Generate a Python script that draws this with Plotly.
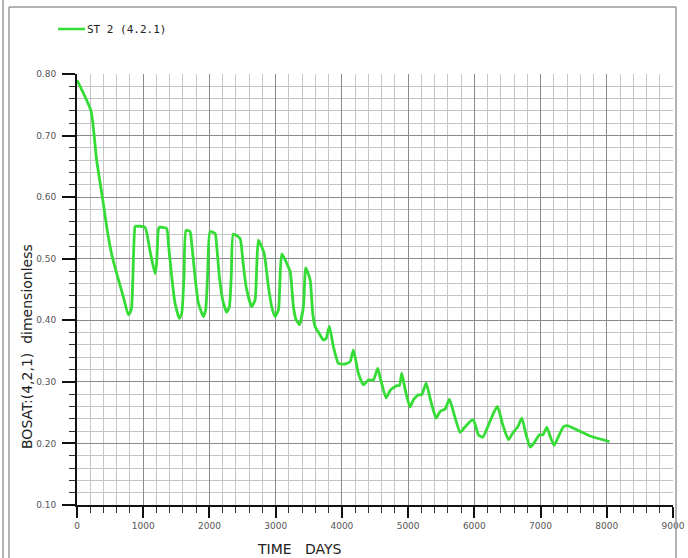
import plotly.graph_objects as go

# ---- data ----
days = [0, 211, 297, 397, 448, 520, 599, 700, 775, 800, 826, 876, 891, 1027, 1100, 1178, 1200,
        1228, 1243, 1354, 1380, 1430, 1480, 1546, 1581, 1616, 1646, 1707, 1732, 1782, 1833, 1908,
        1943, 1973, 2009, 2085, 2110, 2150, 2200, 2261, 2301, 2331, 2361, 2462, 2503, 2553, 2638,
        2689, 2714, 2739, 2825, 2890, 2940, 2991, 3042, 3067, 3092, 3218, 3268, 3308, 3359, 3419,
        3454, 3520, 3560, 3595, 3660, 3721, 3760, 3811, 3872, 3948, 4048, 4124, 4174, 4249, 4325,
        4400, 4476, 4541, 4587, 4668, 4728, 4829, 4869, 4904, 4960, 5030, 5080, 5156, 5206, 5272,
        5340, 5423, 5483, 5559, 5624, 5700, 5785, 5861, 5962, 5992, 6062, 6127, 6213, 6289, 6349,
        6430, 6515, 6581, 6656, 6717, 6780, 6843, 6903, 6983, 7033, 7095, 7150, 7205, 7270, 7346,
        7406, 7548, 7749, 8041]
bosat = [0.790, 0.740, 0.660, 0.590, 0.552, 0.509, 0.476, 0.438, 0.409, 0.412, 0.422, 0.552, 0.553,
         0.551, 0.514, 0.476, 0.490, 0.547, 0.551, 0.549, 0.525, 0.471, 0.428, 0.403, 0.411, 0.471,
         0.546, 0.544, 0.525, 0.471, 0.428, 0.406, 0.417, 0.476, 0.544, 0.541, 0.520, 0.471, 0.433,
         0.413, 0.422, 0.476, 0.540, 0.533, 0.498, 0.455, 0.422, 0.433, 0.487, 0.530, 0.509, 0.455,
         0.422, 0.406, 0.417, 0.471, 0.508, 0.479, 0.422, 0.401, 0.393, 0.422, 0.485, 0.466, 0.411,
         0.390, 0.378, 0.368, 0.370, 0.390, 0.357, 0.330, 0.329, 0.333, 0.352, 0.314, 0.295, 0.303,
         0.303, 0.322, 0.303, 0.274, 0.286, 0.294, 0.294, 0.314, 0.285, 0.259, 0.271, 0.279, 0.279,
         0.298, 0.270, 0.241, 0.252, 0.256, 0.272, 0.245, 0.218, 0.227, 0.238, 0.237, 0.214, 0.210,
         0.230, 0.249, 0.260, 0.230, 0.206, 0.217, 0.227, 0.241, 0.215, 0.194, 0.201, 0.214, 0.214,
         0.226, 0.210, 0.197, 0.211, 0.227, 0.229, 0.222, 0.212, 0.203]
assert len(days) == len(bosat)

series_name = "ST 2 (4.2.1)"
x_title = "TIME   DAYS"
y_title = "BOSAT:(4,2,1)  dimensionless"
x_ticks = [0, 1000, 2000, 3000, 4000, 5000, 6000, 7000, 8000, 9000]
y_ticks = [0.10, 0.20, 0.30, 0.40, 0.50, 0.60, 0.70, 0.80]

GREEN = "#35dc35"
MAJ = "#8a8a8a"
MIN = "#c4c4c4"
TICKFONT = dict(family="DejaVu Sans", size=9, color="#555555")

W, H = 688, 558
L, R, T, B = 77, 15, 74, 53
pw, ph = W - L - R, H - T - B


def px(xp):
    return (xp - L) / pw


def py(yp):
    return (H - B - yp) / ph


fig = go.Figure()
fig.add_trace(go.Scatter(x=days, y=bosat, mode="lines", name=series_name,
                         line=dict(color=GREEN, width=2.8, shape="spline", smoothing=0.5),
                         showlegend=False))

fig.update_layout(
    template="none",
    width=W, height=H, autosize=False,
    margin=dict(l=L, r=R, t=T, b=B, pad=0, autoexpand=False),
    paper_bgcolor="white", plot_bgcolor="white",
    xaxis=dict(range=[0, 9000], tickvals=x_ticks, ticktext=[str(v) for v in x_ticks],
               automargin=False,
               showgrid=True, gridcolor=MAJ, gridwidth=1,
               ticks="outside", ticklen=11, tickwidth=2, tickcolor="#111111",
               showline=True, linecolor="#111111", linewidth=2,
               tickfont=TICKFONT, zeroline=False,
               minor=dict(dtick=200, showgrid=True, gridcolor=MIN, gridwidth=1,
                          ticks="outside", ticklen=6, tickwidth=1, tickcolor="#333333")),
    yaxis=dict(range=[0.10, 0.80], tickvals=y_ticks, ticktext=["%.2f" % v for v in y_ticks],
               automargin=False,
               showgrid=True, gridcolor=MAJ, gridwidth=1,
               ticks="outside", ticklen=13, tickwidth=2, tickcolor="#111111",
               showline=True, linecolor="#111111", linewidth=2,
               tickfont=TICKFONT, zeroline=False, ticklabelstandoff=4,
               minor=dict(dtick=0.02, showgrid=True, gridcolor=MIN, gridwidth=1,
                          ticks="outside", ticklen=6, tickwidth=1, tickcolor="#333333")),
)

# titles
fig.add_annotation(text=x_title, xref="paper", yref="paper", x=px(299), y=py(549),
                   xanchor="center", yanchor="middle", showarrow=False,
                   font=dict(family="DejaVu Sans", size=14, color="#222222"))
fig.add_annotation(text=y_title, xref="paper", yref="paper", x=px(27), y=py(347),
                   xanchor="center", yanchor="middle", showarrow=False, textangle=-90,
                   font=dict(family="DejaVu Sans", size=14, color="#222222"))

# legend (line sample + label)
fig.add_shape(type="line", xref="paper", yref="paper", x0=px(58), x1=px(85), y0=py(29), y1=py(29),
              line=dict(color=GREEN, width=2.5))
fig.add_annotation(text=series_name, xref="paper", yref="paper", x=px(85), y=py(29),
                   xanchor="left", yanchor="middle", showarrow=False,
                   font=dict(family="DejaVu Sans Mono", size=11, color="#222222"))

# window frame
frame = "#9a9a9a"
fig.add_shape(type="line", xref="paper", yref="paper", x0=px(9), x1=px(676), y0=py(7), y1=py(7),
              line=dict(color=frame, width=1.5))
fig.add_shape(type="line", xref="paper", yref="paper", x0=px(9), x1=px(9), y0=py(7), y1=py(560),
              line=dict(color=frame, width=1.5))
fig.add_shape(type="line", xref="paper", yref="paper", x0=px(676), x1=px(676), y0=py(7), y1=py(560),
              line=dict(color=frame, width=1.5))
fig.add_shape(type="line", xref="paper", yref="paper", x0=px(3), x1=px(3), y0=py(0), y1=py(560),
              line=dict(color=frame, width=1.5))

fig.write_html("out.html")
